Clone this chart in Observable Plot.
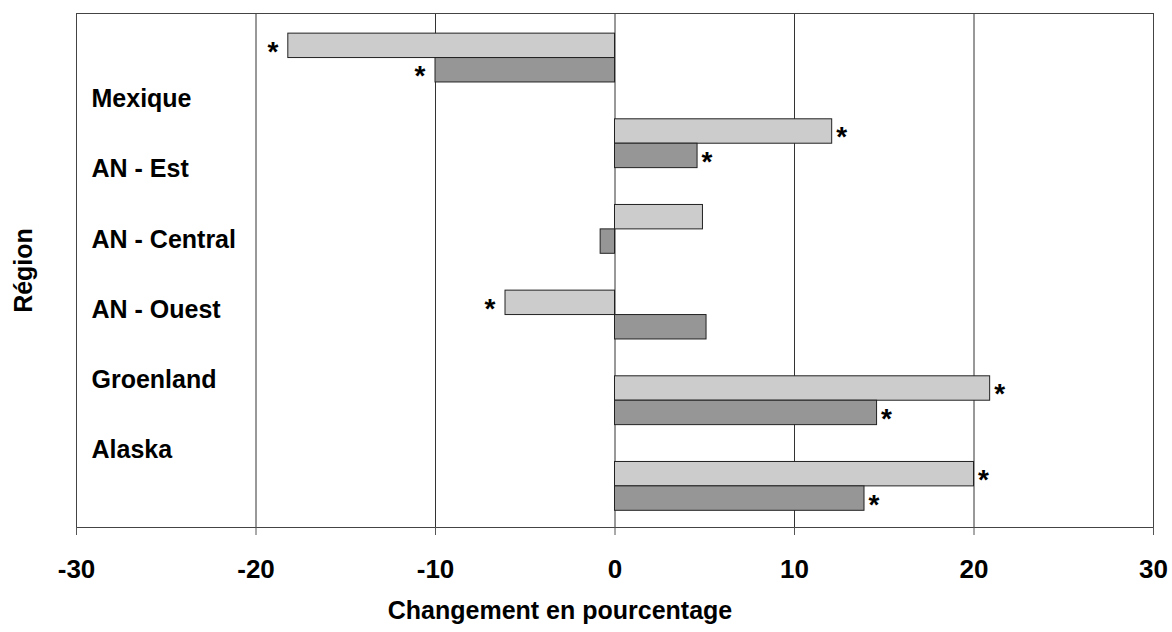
<!DOCTYPE html>
<html>
<head>
<meta charset="utf-8">
<script src="https://cdn.jsdelivr.net/npm/d3@7"></script>
<script src="https://cdn.jsdelivr.net/npm/@observablehq/plot@0.6"></script>
<style>
  html, body { margin: 0; padding: 0; background: #fff; }
  #chart svg { display: block; font-family: "Liberation Sans", Arial, sans-serif; }
</style>
</head>
<body>
<div id="chart"></div>
<script>
const regions = ["Mexique", "AN - Est", "AN - Central", "AN - Ouest", "Groenland", "Alaska"];
const lightValues = [-18.2, 12.1, 4.9, -6.1, 20.9, 20.0];
const darkValues = [-10.0, 4.6, -0.8, 5.1, 14.6, 13.9];
const lightSig = [true, true, false, true, true, true];
const darkSig = [true, true, false, false, true, true];
const xTicks = [-30, -20, -10, 0, 10, 20, 30];
const gridTicks = [-20, -10, 0, 10, 20];

const lightColor = "#cccccc";
const darkColor = "#969696";

const bars = [];
regions.forEach((r, i) => {
  bars.push({region: r, i, series: "light", value: lightValues[i], sig: lightSig[i]});
  bars.push({region: r, i, series: "dark", value: darkValues[i], sig: darkSig[i]});
});
const y1 = d => d.i + (d.series === "light" ? 0.235 : 0.52);
const y2 = d => d.i + (d.series === "light" ? 0.52 : 0.805);
const yMid = d => (y1(d) + y2(d)) / 2;

const font = "Liberation Sans, Arial, sans-serif";
const starOpts = {fontSize: 28, fontWeight: "bold", fill: "#000", dy: 6};

const chart = Plot.plot({
  width: 1172,
  height: 632,
  marginLeft: 76,
  marginRight: 19,
  marginTop: 13,
  marginBottom: 105,
  style: {fontFamily: font, background: "#fff"},
  x: {domain: [-30, 30]},
  y: {domain: [0, 6], reverse: true, axis: null},
  marks: [
    Plot.ruleX(gridTicks, {stroke: "#333", strokeWidth: 1}),
    Plot.rectX(bars, {
      x1: 0, x2: "value", y1, y2,
      fill: d => d.series === "light" ? lightColor : darkColor,
      stroke: "#222", strokeWidth: 1
    }),
    Plot.text(bars.filter(d => d.sig && d.value >= 0), {
      x: "value", y: yMid, text: () => "*", textAnchor: "start", dx: 4, ...starOpts
    }),
    Plot.text(bars.filter(d => d.sig && d.value < 0), {
      x: "value", y: yMid, text: () => "*", textAnchor: "end", dx: -10, ...starOpts
    }),
    Plot.text(regions, {
      frameAnchor: "left", y: (d, i) => 1.0 + 0.82 * i, text: d => d,
      textAnchor: "start", lineAnchor: "middle", dx: 15, fontSize: 25, fontWeight: "bold", fill: "#000"
    }),
    Plot.frame({stroke: "#444", strokeWidth: 1}),
    Plot.axisX({
      ticks: xTicks, tickFormat: d => String(d), tickSize: 8, tickPadding: 24,
      fontSize: 26, fontWeight: "bold", fill: "#000", stroke: "#555", label: null
    }),
    Plot.text(["Changement en pourcentage"], {
      frameAnchor: "bottom", lineAnchor: "middle", textAnchor: "middle", dy: 83, dx: -55,
      fontSize: 25, fontWeight: "bold", fill: "#000"
    }),
    Plot.text(["Région"], {
      frameAnchor: "left", lineAnchor: "middle", textAnchor: "middle", rotate: -90, dx: -53,
      fontSize: 25, fontWeight: "bold", fill: "#000"
    })
  ]
});
document.getElementById("chart").appendChild(chart);
</script>
</body>
</html>
